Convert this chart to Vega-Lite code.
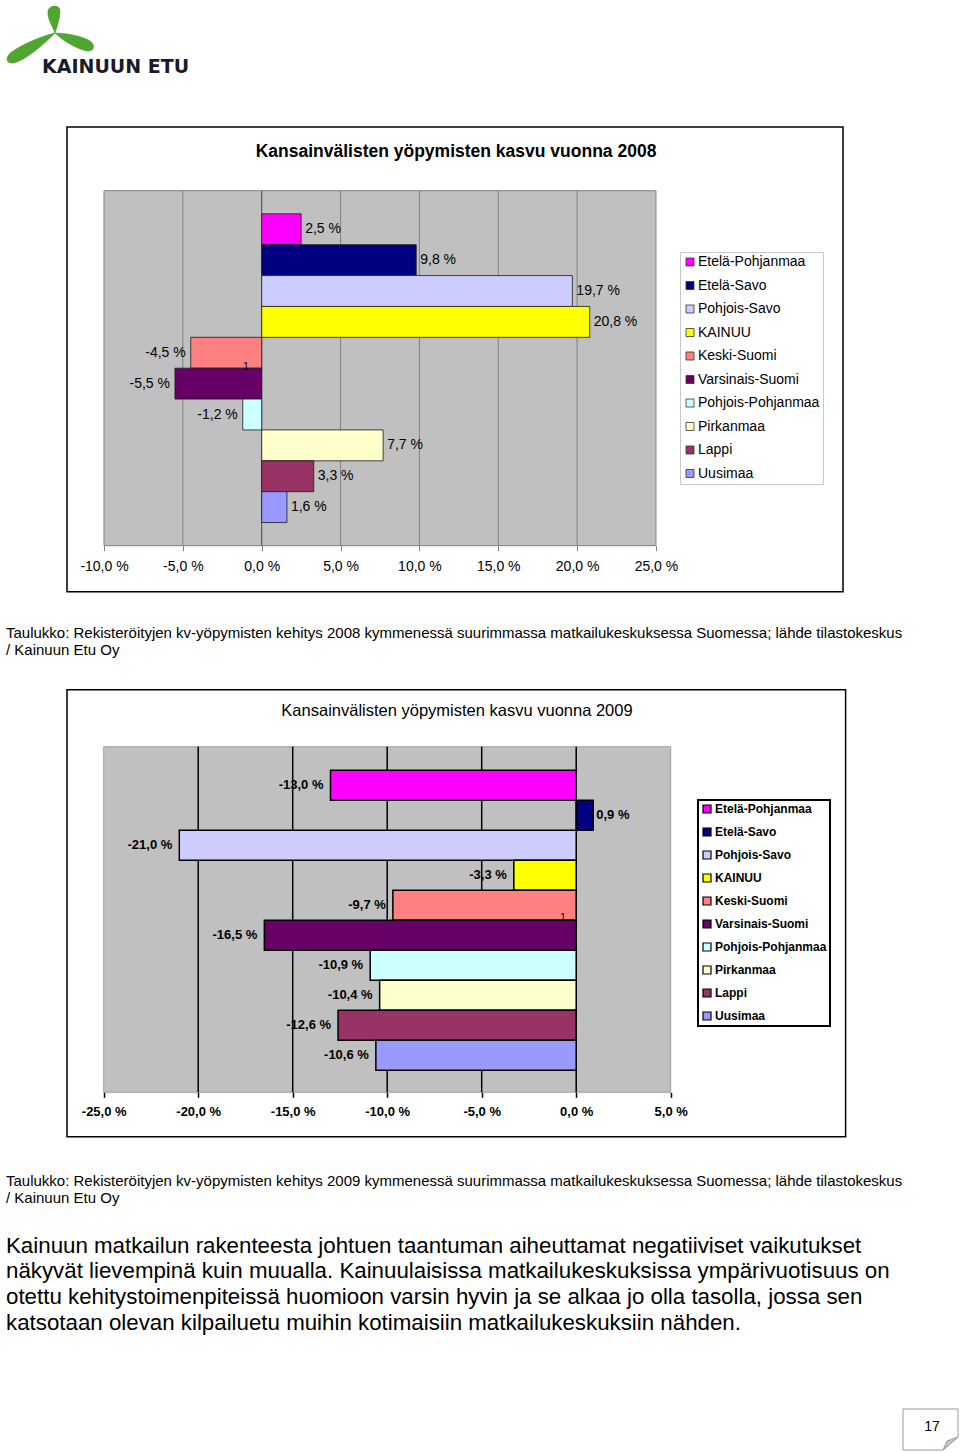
{
  "$schema": "https://vega.github.io/schema/vega-lite/v6.json",
  "padding": 0,
  "background": "#ffffff",
  "spacing": 0,
  "bounds": "flush",
  "config": {
    "view": {"stroke": null},
    "font": "Liberation Sans",
    "locale": {"number": {"decimal": ",", "thousands": " ", "grouping": [3], "currency": ["", " €"], "percent": " %", "minus": "-"}},
    "title": {"color": "#000000"},
    "scale": {"continuousPadding": 0}
  },
  "resolve": {"scale": {"color": "independent"}, "legend": {"color": "independent"}},
  "datasets": {
    "y2008": [
      {"region": "Etelä-Pohjanmaa", "order": 1, "v": 0.025},
      {"region": "Etelä-Savo", "order": 2, "v": 0.098},
      {"region": "Pohjois-Savo", "order": 3, "v": 0.197},
      {"region": "KAINUU", "order": 4, "v": 0.208},
      {"region": "Keski-Suomi", "order": 5, "v": -0.045},
      {"region": "Varsinais-Suomi", "order": 6, "v": -0.055},
      {"region": "Pohjois-Pohjanmaa", "order": 7, "v": -0.012},
      {"region": "Pirkanmaa", "order": 8, "v": 0.077},
      {"region": "Lappi", "order": 9, "v": 0.033},
      {"region": "Uusimaa", "order": 10, "v": 0.016}
    ],
    "y2009": [
      {"region": "Etelä-Pohjanmaa", "order": 1, "v": -0.13},
      {"region": "Etelä-Savo", "order": 2, "v": 0.009},
      {"region": "Pohjois-Savo", "order": 3, "v": -0.21},
      {"region": "KAINUU", "order": 4, "v": -0.033},
      {"region": "Keski-Suomi", "order": 5, "v": -0.097},
      {"region": "Varsinais-Suomi", "order": 6, "v": -0.165},
      {"region": "Pohjois-Pohjanmaa", "order": 7, "v": -0.109},
      {"region": "Pirkanmaa", "order": 8, "v": -0.104},
      {"region": "Lappi", "order": 9, "v": -0.126},
      {"region": "Uusimaa", "order": 10, "v": -0.106}
    ],
    "grid2008": [{"g": -0.05}, {"g": 0.05}, {"g": 0.1}, {"g": 0.15}, {"g": 0.2}],
    "grid2009": [{"g": -0.2}, {"g": -0.15}, {"g": -0.1}, {"g": -0.05}, {"g": 0}],
    "one": [{"k": 1}]
  },
  "vconcat": [
    {
      "width": 110,
      "height": 66,
      "title": {"text": "KAINUUN ETU", "orient": "bottom", "anchor": "start", "frame": "group", "dx": 42, "offset": -8, "baseline": "top", "font": "DejaVu Sans", "fontSize": 19, "fontWeight": "bold", "color": "#1a1a2a"},
      "data": {"name": "one"},
      "mark": {"type": "point", "shape": "M 0 0 C -2 -6 -8 -14 -7 -22 C -6 -28 5 -29 5 -22 C 5 -14 2 -6 0 0 Z M 0 0 C -10 2 -30 10 -42 18 C -50 23 -50 31 -42 30 C -30 28 -12 12 0 0 Z M 0 0 C 10 0 28 3 35 8 C 41 12 39 19 32 18 C 22 16 8 8 0 0 Z", "size": 4, "filled": true, "fill": "#4fa72f", "stroke": "#3d8f22", "strokeWidth": 0.5, "opacity": 1},
      "encoding": {}
    },
    {
      "width": 960,
      "height": 526,
      "title": {
        "text": ["Taulukko: Rekisteröityjen kv-yöpymisten kehitys 2008 kymmenessä suurimmassa matkailukeskuksessa Suomessa; lähde tilastokeskus", "/ Kainuun Etu Oy"],
        "orient": "bottom", "anchor": "start", "frame": "group", "dx": 6, "offset": 34, "baseline": "top",
        "fontSize": 15, "fontWeight": "normal", "font": "Liberation Sans", "lineHeight": 17, "color": "#000000"
      },
      "encoding": {
        "x": {"type": "quantitative", "scale": {"domain": [-0.16595, 0.4428], "nice": false, "zero": false, "padding": 0},
          "axis": {"values": [-0.1, -0.05, 0, 0.05, 0.1, 0.15, 0.2, 0.25], "format": ".1%", "title": null, "domain": false, "grid": false, "ticks": true, "tickColor": "#808080", "tickSize": 5, "labelFontSize": 14, "labelColor": "#000000", "labelFont": "Liberation Sans", "labelPadding": 9, "offset": -46.3, "orient": "bottom", "labelFlush": false, "labelOverlap": false, "zindex": 2}},
        "y": {"type": "quantitative", "scale": {"domain": [-4.2895, 12.75], "nice": false, "zero": false, "reverse": true, "padding": 0}, "axis": null}
      },
      "layer": [
        {
          "data": {"name": "one"},
          "mark": {"type": "rect", "fill": "#ffffff", "stroke": "#000000", "strokeWidth": 1.5},
          "encoding": {
            "x": {"datum": -0.12346, "type": "quantitative"},
            "x2": {"datum": 0.36861},
            "y": {"datum": -2.3135, "type": "quantitative"},
            "y2": {"datum": 12.74}
          }
        },
        {
          "data": {"name": "one"},
          "mark": {"type": "rect", "fill": "#c0c0c0", "stroke": "#808080", "strokeWidth": 1},
          "encoding": {
            "x": {"datum": -0.1, "type": "quantitative"},
            "x2": {"datum": 0.25},
            "y": {"datum": -0.25, "type": "quantitative"},
            "y2": {"datum": 11.25}
          }
        },
        {
          "data": {"name": "grid2008"},
          "mark": {"type": "rule", "stroke": "#808080", "strokeWidth": 1},
          "encoding": {
            "x": {"field": "g", "type": "quantitative"},
            "y": {"datum": -0.25, "type": "quantitative"},
            "y2": {"datum": 11.25}
          }
        },
        {
          "data": {"name": "one"},
          "mark": {"type": "rule", "stroke": "#4a4a4a", "strokeWidth": 1},
          "encoding": {
            "x": {"datum": 0, "type": "quantitative"},
            "y": {"datum": -0.25, "type": "quantitative"},
            "y2": {"datum": 11.25}
          }
        },
        {
          "data": {"name": "y2008"},
          "mark": {"type": "bar", "orient": "horizontal", "height": 30.9, "stroke": "#1a1a1a", "strokeWidth": 0.8},
          "encoding": {
            "x": {"field": "v", "type": "quantitative"},
            "x2": {"datum": 0},
            "y": {"field": "order", "type": "quantitative"},
            "color": {"field": "region", "type": "nominal",
              "scale": {"domain": ["Etelä-Pohjanmaa", "Etelä-Savo", "Pohjois-Savo", "KAINUU", "Keski-Suomi", "Varsinais-Suomi", "Pohjois-Pohjanmaa", "Pirkanmaa", "Lappi", "Uusimaa"],
                "range": ["#FF00FF", "#000080", "#CCCCFF", "#FFFF00", "#FF8080", "#660066", "#CCFFFF", "#FFFFCC", "#993366", "#9999FF"]},
              "legend": {"orient": "none", "legendX": 680, "legendY": 186, "title": null, "symbolType": "square", "symbolSize": 64, "symbolStrokeColor": "#333333", "symbolStrokeWidth": 0.8, "symbolOpacity": 1, "labelFontSize": 14, "labelFontWeight": "normal", "labelFont": "Liberation Sans", "labelColor": "#000000", "strokeColor": "#c8c8c8", "fillColor": "#ffffff", "padding": 3, "rowPadding": 9.5, "labelOffset": 1, "labelLimit": 300}
            }
          }
        },
        {
          "data": {"name": "y2008"},
          "transform": [{"filter": "datum.v >= 0"}],
          "mark": {"type": "text", "align": "left", "baseline": "middle", "dx": 4, "fontSize": 14, "color": "#000000"},
          "encoding": {
            "x": {"field": "v", "type": "quantitative"},
            "y": {"field": "order", "type": "quantitative"},
            "text": {"field": "v", "type": "quantitative", "format": ".1%"}
          }
        },
        {
          "data": {"name": "y2008"},
          "transform": [{"filter": "datum.v < 0"}],
          "mark": {"type": "text", "align": "right", "baseline": "middle", "dx": -5, "fontSize": 14, "color": "#000000"},
          "encoding": {
            "x": {"field": "v", "type": "quantitative"},
            "y": {"field": "order", "type": "quantitative"},
            "text": {"field": "v", "type": "quantitative", "format": ".1%"}
          }
        },
        {
          "data": {"values": [{"t": "Kansainvälisten yöpymisten kasvu vuonna 2008"}]},
          "mark": {"type": "text", "align": "center", "baseline": "middle", "fontSize": 17.5, "fontWeight": "bold", "color": "#000000"},
          "encoding": {
            "x": {"datum": 0.12321, "type": "quantitative"},
            "y": {"datum": -1.5035, "type": "quantitative"},
            "text": {"field": "t"}
          }
        },
        {
          "data": {"values": [{"t": "1"}]},
          "mark": {"type": "text", "align": "center", "baseline": "middle", "fontSize": 10, "color": "#000000"},
          "encoding": {
            "x": {"datum": -0.01, "type": "quantitative"},
            "y": {"datum": 5.46, "type": "quantitative"},
            "text": {"field": "t"}
          }
        }
      ]
    },
    {
      "width": 960,
      "height": 545,
      "title": {
        "text": ["Taulukko: Rekisteröityjen kv-yöpymisten kehitys 2009 kymmenessä suurimmassa matkailukeskuksessa Suomessa; lähde tilastokeskus", "/ Kainuun Etu Oy"],
        "subtitle": ["Kainuun matkailun rakenteesta johtuen taantuman aiheuttamat negatiiviset vaikutukset", "näkyvät lievempinä kuin muualla. Kainuulaisissa matkailukeskuksissa ympärivuotisuus on", "otettu kehitystoimenpiteissä huomioon varsin hyvin ja se alkaa jo olla tasolla, jossa sen", "katsotaan olevan kilpailuetu muihin kotimaisiin matkailukeskuksiin nähden."],
        "orient": "bottom", "anchor": "start", "frame": "group", "dx": 6, "offset": 36, "baseline": "top",
        "fontSize": 15, "fontWeight": "normal", "font": "Liberation Sans", "lineHeight": 17, "color": "#000000",
        "subtitleFontSize": 22.3, "subtitleFont": "Liberation Sans", "subtitleLineHeight": 25.8, "subtitleColor": "#000000", "subtitlePadding": 29
      },
      "encoding": {
        "x": {"type": "quantitative", "scale": {"domain": [-0.30487, 0.20307], "nice": false, "zero": false, "padding": 0},
          "axis": {"values": [-0.25, -0.2, -0.15, -0.1, -0.05, 0, 0.05], "format": ".1%", "title": null, "domain": false, "grid": false, "ticks": true, "tickColor": "#000000", "tickWidth": 1.5, "tickSize": 5, "labelFontSize": 13, "labelFontWeight": "bold", "labelColor": "#000000", "labelFont": "Liberation Sans", "labelPadding": 8, "offset": -44.7, "orient": "bottom", "labelFlush": false, "labelOverlap": false, "zindex": 2}},
        "y": {"type": "quantitative", "scale": {"domain": [-5.4433, 12.7233], "nice": false, "zero": false, "reverse": true, "padding": 0}, "axis": null}
      },
      "layer": [
        {
          "data": {"name": "one"},
          "mark": {"type": "rect", "fill": "#ffffff", "stroke": "#000000", "strokeWidth": 1.5},
          "encoding": {
            "x": {"datum": -0.26942, "type": "quantitative"},
            "x2": {"datum": 0.14254},
            "y": {"datum": -2.1867, "type": "quantitative"},
            "y2": {"datum": 12.715}
          }
        },
        {
          "data": {"name": "one"},
          "mark": {"type": "rect", "fill": "#c0c0c0", "stroke": "#a0a0a0", "strokeWidth": 1},
          "encoding": {
            "x": {"datum": -0.25, "type": "quantitative"},
            "x2": {"datum": 0.05},
            "y": {"datum": -0.287, "type": "quantitative"},
            "y2": {"datum": 11.233}
          }
        },
        {
          "data": {"name": "grid2009"},
          "mark": {"type": "rule", "stroke": "#000000", "strokeWidth": 1.5},
          "encoding": {
            "x": {"field": "g", "type": "quantitative"},
            "y": {"datum": -0.287, "type": "quantitative"},
            "y2": {"datum": 11.233}
          }
        },
        {
          "data": {"name": "y2009"},
          "mark": {"type": "bar", "orient": "horizontal", "height": 30, "stroke": "#000000", "strokeWidth": 1.5},
          "encoding": {
            "x": {"field": "v", "type": "quantitative"},
            "x2": {"datum": 0},
            "y": {"field": "order", "type": "quantitative"},
            "color": {"field": "region", "type": "nominal",
              "scale": {"domain": ["Etelä-Pohjanmaa", "Etelä-Savo", "Pohjois-Savo", "KAINUU", "Keski-Suomi", "Varsinais-Suomi", "Pohjois-Pohjanmaa", "Pirkanmaa", "Lappi", "Uusimaa"],
                "range": ["#FF00FF", "#000080", "#CCCCFF", "#FFFF00", "#FF8080", "#660066", "#CCFFFF", "#FFFFCC", "#993366", "#9999FF"]},
              "legend": {"orient": "none", "legendX": 698, "legendY": 208, "title": null, "symbolType": "square", "symbolSize": 64, "symbolStrokeColor": "#000000", "symbolStrokeWidth": 1.2, "symbolOpacity": 1, "labelFontSize": 12, "labelFontWeight": "bold", "labelFont": "Liberation Sans", "labelColor": "#000000", "strokeColor": "#000000", "fillColor": "#ffffff", "padding": 3, "rowPadding": 9, "labelOffset": 2, "labelLimit": 300,
                "encode": {"legend": {"update": {"strokeWidth": {"value": 2}}}}}
            }
          }
        },
        {
          "data": {"name": "y2009"},
          "transform": [{"filter": "datum.v >= 0"}],
          "mark": {"type": "text", "align": "left", "baseline": "middle", "dx": 3, "fontSize": 13, "fontWeight": "bold", "color": "#000000"},
          "encoding": {
            "x": {"field": "v", "type": "quantitative"},
            "y": {"field": "order", "type": "quantitative"},
            "text": {"field": "v", "type": "quantitative", "format": ".1%"}
          }
        },
        {
          "data": {"name": "y2009"},
          "transform": [{"filter": "datum.v < 0"}],
          "mark": {"type": "text", "align": "right", "baseline": "middle", "dx": -7, "fontSize": 13, "fontWeight": "bold", "color": "#000000"},
          "encoding": {
            "x": {"field": "v", "type": "quantitative"},
            "y": {"field": "order", "type": "quantitative"},
            "text": {"field": "v", "type": "quantitative", "format": ".1%"}
          }
        },
        {
          "data": {"values": [{"t": "Kansainvälisten yöpymisten kasvu vuonna 2009"}]},
          "mark": {"type": "text", "align": "center", "baseline": "middle", "fontSize": 16.5, "color": "#000000"},
          "encoding": {
            "x": {"datum": -0.06307, "type": "quantitative"},
            "y": {"datum": -1.4767, "type": "quantitative"},
            "text": {"field": "t"}
          }
        },
        {
          "data": {"values": [{"t": "1"}]},
          "mark": {"type": "text", "align": "center", "baseline": "middle", "fontSize": 10, "color": "#000000"},
          "encoding": {
            "x": {"datum": -0.007, "type": "quantitative"},
            "y": {"datum": 5.423, "type": "quantitative"},
            "text": {"field": "t"}
          }
        }
      ]
    },
    {
      "width": 960,
      "height": 316,
      "data": {"values": [{"page": "17"}]},
      "layer": [
        {
          "mark": {"type": "point", "shape": "M -57 -44 H -2 V -16 L -17 -3 H -57 Z", "size": 4, "filled": true, "fill": "#ffffff", "stroke": "#9a9a9a", "strokeWidth": 1, "opacity": 1},
          "encoding": {"x": {"value": "width"}, "y": {"value": "height"}}
        },
        {
          "mark": {"type": "point", "shape": "M -2 -16 L -13 -12 L -17 -3 Z", "size": 4, "filled": true, "fill": "#c8c8c8", "stroke": "#9a9a9a", "strokeWidth": 1, "opacity": 1},
          "encoding": {"x": {"value": "width"}, "y": {"value": "height"}}
        },
        {
          "mark": {"type": "text", "fontSize": 14, "align": "center", "baseline": "middle", "dx": -28, "dy": -26, "color": "#000000"},
          "encoding": {"x": {"value": "width"}, "y": {"value": "height"}, "text": {"field": "page"}}
        }
      ]
    }
  ]
}
